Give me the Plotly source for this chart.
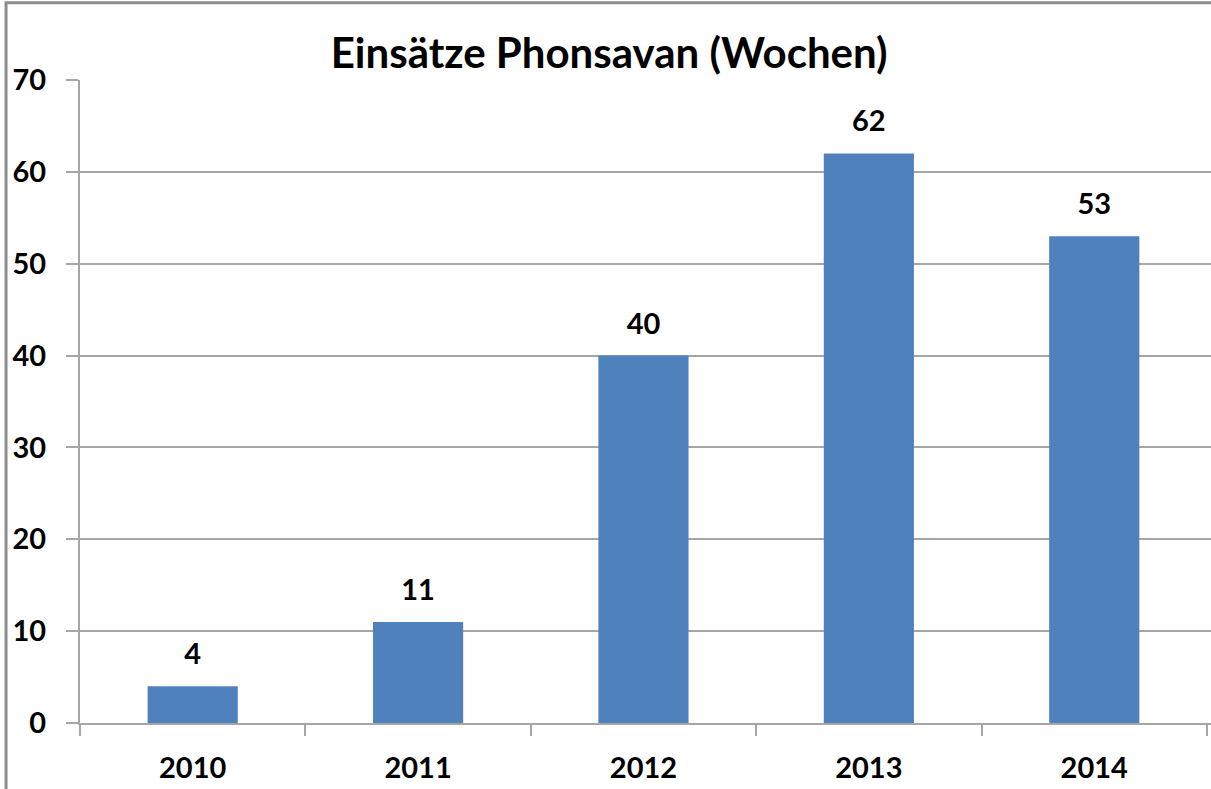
import plotly.graph_objects as go

years = ["2010", "2011", "2012", "2013", "2014"]
weeks = [4, 11, 40, 62, 53]
y_ticks = [0, 10, 20, 30, 40, 50, 60, 70]

FONT = "Lato"
BAR = "#4F81BD"
GRID = "#A6A6A6"

fig = go.Figure()
fig.add_trace(
    go.Bar(
        x=years,
        y=weeks,
        marker=dict(color=BAR, line=dict(width=0)),
        width=0.4,
        hoverinfo="skip",
    )
)
# value labels above the bars
fig.add_trace(
    go.Scatter(
        x=years,
        y=weeks,
        mode="markers+text",
        marker=dict(size=22, color="rgba(0,0,0,0)"),
        text=[f"<b>{v}</b>" for v in weeks],
        textposition="top center",
        textfont=dict(family=FONT, size=29, color="black"),
        cliponaxis=False,
        hoverinfo="skip",
    )
)

fig.update_layout(
    width=1211,
    height=789,
    margin=dict(l=80, r=0, t=80, b=66),
    paper_bgcolor="white",
    plot_bgcolor="white",
    showlegend=False,
    title=dict(
        text="<b>Einsätze Phonsavan (Wochen)</b>",
        x=0.503,
        xanchor="center",
        xref="container",
        y=0.933,
        yanchor="middle",
        font=dict(family=FONT, size=42, color="black"),
    ),
    font=dict(family=FONT, color="black"),
)

fig.update_xaxes(
    type="category",
    range=[-0.5, 4.518],
    showline=True,
    linecolor=GRID,
    linewidth=2,
    ticks="outside",
    tickson="boundaries",
    ticklen=11,
    tickcolor=GRID,
    tickwidth=2,
    tickfont=dict(family=FONT, size=29, color="black", weight="bold"),
    ticklabelstandoff=18,
    showgrid=False,
)

fig.update_yaxes(
    range=[0, 70],
    tickvals=y_ticks,
    showline=True,
    linecolor=GRID,
    linewidth=2,
    ticks="outside",
    ticklen=12,
    tickcolor=GRID,
    tickwidth=2,
    showgrid=True,
    gridcolor=GRID,
    gridwidth=2,
    zeroline=False,
    tickfont=dict(family=FONT, size=29, color="black", weight="bold"),
    ticklabelstandoff=14,
)

# chart frame (outer border, partly cropped like the reference)
fig.add_shape(
    type="rect",
    xref="paper", yref="paper",
    x0=-0.0654, x1=1.05, y0=-0.2, y1=1.12,
    line=dict(color="#8C8C8C", width=3),
    fillcolor="rgba(0,0,0,0)",
    layer="above",
)

fig.write_html(
    "out.html",
    config={"displayModeBar": False},
    post_script="document.body.style.margin='0';document.body.style.overflow='hidden';",
)
